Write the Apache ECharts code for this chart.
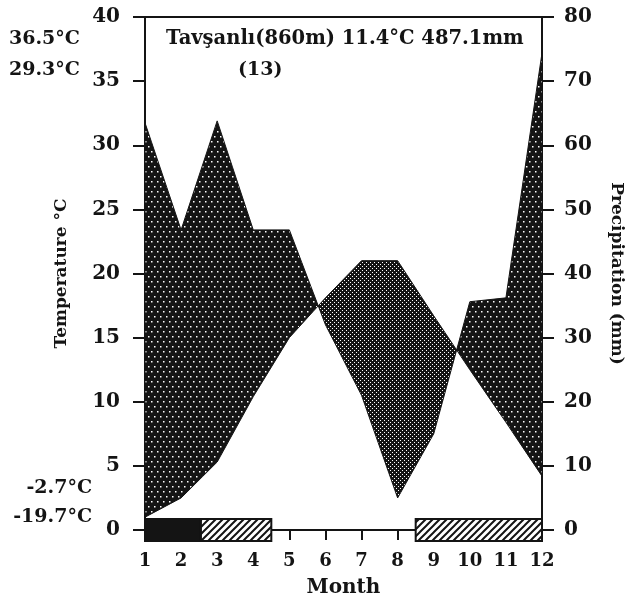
<!DOCTYPE html>
<html>
<head>
<meta charset="utf-8">
<script src="https://cdn.jsdelivr.net/npm/echarts@6/dist/echarts.min.js"></script>
<style>
  html, body { margin: 0; padding: 0; background: #fff; }
  #chart { width: 633px; height: 603px; }
</style>
</head>
<body>
<div id="chart"></div>
<script>
// monthly data
var months = [1, 2, 3, 4, 5, 6, 7, 8, 9, 10, 11, 12];
var temperature = [1.0, 2.5, 5.3, 10.4, 15.0, 18.1, 21.0, 21.0, 16.7, 12.5, 8.4, 4.2];
var precipitation = [63.5, 46.8, 63.8, 46.8, 46.8, 32.0, 21.0, 5.0, 15.0, 35.6, 36.2, 74.4];
var tempTicks = [0, 5, 10, 15, 20, 25, 30, 35, 40];
var precTicks = [0, 10, 20, 30, 40, 50, 60, 70, 80];
// frost bars: [from month, to month]
var frostSure = [[1, 2.55]];
var frostPossible = [[2.55, 4.5], [8.5, 12]];
// extreme labels on the left
var extremes = ['36.5°C', '29.3°C', '-2.7°C', '-19.7°C'];
var stationTitle = 'Tavşanlı(860m) 11.4°C 487.1mm';
var stationYears = '(13)';

var FONT = '"DejaVu Serif", serif';
var INK = '#141414';

// P is drawn on the temperature scale (80 mm = 40 °C)
var ratio = tempTicks[tempTicks.length - 1] / precTicks[precTicks.length - 1];
var precScaled = precipitation.map(function (p) { return p * ratio; });

function at(arr, x) {
  var i = Math.min(Math.floor(x) - 1, arr.length - 2);
  var f = x - months[i];
  return arr[i] + (arr[i + 1] - arr[i]) * f;
}

// split the band between the two curves where they cross
var breaks = [months[0]];
for (var i = 0; i < months.length - 1; i++) {
  var d0 = precScaled[i] - temperature[i];
  var d1 = precScaled[i + 1] - temperature[i + 1];
  if (d0 * d1 < 0) breaks.push(months[i] + d0 / (d0 - d1));
}
breaks.push(months[months.length - 1]);

var regions = [];
for (var k = 0; k < breaks.length - 1; k++) {
  var a = breaks[k], b = breaks[k + 1];
  var xs = [a];
  months.forEach(function (m) { if (m > a && m < b) xs.push(m); });
  xs.push(b);
  var pts = xs.map(function (x) { return [x, at(precScaled, x)]; });
  xs.slice().reverse().forEach(function (x) { pts.push([x, at(temperature, x)]); });
  var mid = (a + b) / 2;
  regions.push({ pts: pts, humid: at(precScaled, mid) > at(temperature, mid) });
}

function makePattern(w, h, draw) {
  var c = document.createElement('canvas');
  c.width = w; c.height = h;
  draw(c.getContext('2d'));
  return { image: c, repeat: 'repeat' };
}
var humidFill = makePattern(6, 10, function (g) {
  g.fillStyle = INK; g.fillRect(0, 0, 6, 10);
  g.fillStyle = '#fff';
  g.fillRect(1, 1, 1.5, 1.5);
  g.fillRect(4, 6, 1.5, 1.5);
});
var aridFill = makePattern(4, 4, function (g) {
  g.fillStyle = INK; g.fillRect(0, 0, 4, 4);
  g.fillStyle = '#fff';
  g.fillRect(0, 0, 1, 1);
  g.fillRect(2, 2, 1, 1);
});
var hatchFill = makePattern(7, 7, function (g) {
  g.fillStyle = '#fff'; g.fillRect(0, 0, 7, 7);
  g.strokeStyle = INK; g.lineWidth = 2;
  g.beginPath();
  g.moveTo(-1, 8); g.lineTo(8, -1);
  g.moveTo(-1, 1); g.lineTo(1, -1);
  g.moveTo(6, 8); g.lineTo(8, 6);
  g.stroke();
});

var bars = frostSure.map(function (r) { return [r[0], r[1], 1]; })
  .concat(frostPossible.map(function (r) { return [r[0], r[1], 0]; }));

var chart = echarts.init(document.getElementById('chart'));
var option = {
  animation: false,
  backgroundColor: '#fff',
  grid: { left: 145, right: 87, top: 17, bottom: 72, show: true, borderColor: INK, borderWidth: 2, backgroundColor: 'transparent' },
  xAxis: {
    type: 'value', min: 1, max: 12, interval: 1,
    name: 'Month', nameLocation: 'middle', nameGap: 48,
    nameTextStyle: { fontFamily: FONT, fontWeight: 'bold', fontSize: 20, color: INK },
    axisLine: { show: true, lineStyle: { color: INK, width: 2 } },
    axisTick: { show: true, inside: false, length: 10, lineStyle: { color: INK, width: 2 } },
    axisLabel: { margin: 22, fontFamily: FONT, fontWeight: 'bold', fontSize: 18, color: INK },
    splitLine: { show: false }
  },
  yAxis: [{
    type: 'value', min: 0, max: 40, interval: 5, position: 'left',
    name: 'Temperature °C', nameLocation: 'middle', nameGap: 75, nameRotate: 90,
    nameTextStyle: { fontFamily: FONT, fontWeight: 'bold', fontSize: 17, color: INK },
    axisLine: { show: true, lineStyle: { color: INK, width: 2 } },
    axisTick: { show: true, length: 12, lineStyle: { color: INK, width: 2 } },
    axisLabel: { margin: 25, fontFamily: FONT, fontWeight: 'bold', fontSize: 20, color: INK },
    splitLine: { show: false }
  }, {
    type: 'value', min: 0, max: 80, interval: 10, position: 'right',
    name: 'Precipitation (mm)', nameLocation: 'middle', nameGap: 66, nameRotate: -90,
    nameTextStyle: { fontFamily: FONT, fontWeight: 'bold', fontSize: 17, color: INK },
    axisLine: { show: true, lineStyle: { color: INK, width: 2 } },
    axisTick: { show: true, length: 12, lineStyle: { color: INK, width: 2 } },
    axisLabel: { margin: 22, fontFamily: FONT, fontWeight: 'bold', fontSize: 20, color: INK },
    splitLine: { show: false }
  }],
  series: [{
    type: 'custom',
    yAxisIndex: 0,
    data: regions.map(function (r, i) { return i; }),
    renderItem: function (params, api) {
      var r = regions[params.dataIndex];
      return {
        type: 'polygon',
        shape: { points: r.pts.map(function (p) { return api.coord(p); }) },
        style: { fill: r.humid ? humidFill : aridFill, stroke: INK, lineWidth: 1 }
      };
    }
  }, {
    type: 'custom',
    yAxisIndex: 0,
    clip: false,
    z: 5,
    data: bars,
    renderItem: function (params, api) {
      var s = api.coord([api.value(0), 0]);
      var e = api.coord([api.value(1), 0]);
      return {
        type: 'rect',
        shape: { x: s[0], y: s[1] - 11, width: e[0] - s[0], height: 22 },
        style: { fill: api.value(2) ? INK : hatchFill, stroke: INK, lineWidth: 2 }
      };
    }
  }],
  graphic: [
    { type: 'text', left: 9, top: 30, style: { text: extremes[0], font: 'bold 19px ' + FONT, fill: INK } },
    { type: 'text', left: 9, top: 61, style: { text: extremes[1], font: 'bold 19px ' + FONT, fill: INK } },
    { type: 'text', right: 633 - 92, top: 479, style: { text: extremes[2], font: 'bold 19px ' + FONT, fill: INK } },
    { type: 'text', right: 633 - 92, top: 508, style: { text: extremes[3], font: 'bold 19px ' + FONT, fill: INK } },
    { type: 'text', left: 166, top: 29, style: { text: stationTitle, font: 'bold 19.5px ' + FONT, fill: INK } },
    { type: 'text', left: 238, top: 61, style: { text: stationYears, font: 'bold 19px ' + FONT, fill: INK } }
  ]
};
chart.setOption(option);
</script>
</body>
</html>
